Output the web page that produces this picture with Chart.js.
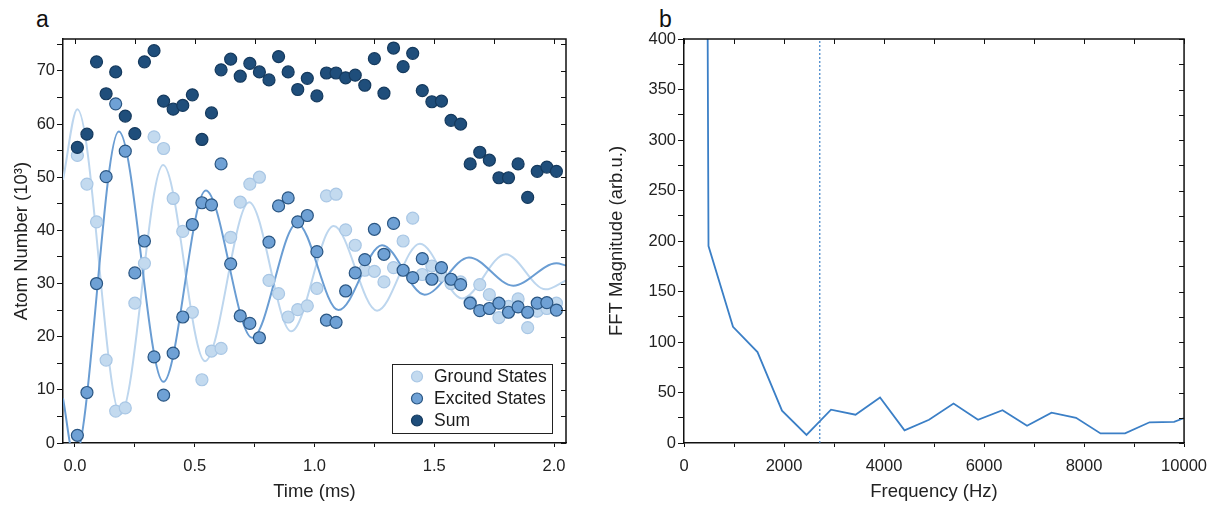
<!DOCTYPE html>
<html>
<head>
<meta charset="utf-8">
<script src="https://cdn.jsdelivr.net/npm/chart.js@4.4.1/dist/chart.umd.min.js"></script>
<style>
body { margin: 0; background: #fff; width: 1217px; height: 507px; overflow: hidden; position: relative; font-family: "Liberation Sans", Arial, sans-serif; }
canvas { position: absolute; top: 0; }
#left { left: 0; }
#right { left: 600px; }
.tag { position: absolute; top: 6px; font-size: 23px; color: #111; }
</style>
</head>
<body>
<div class="tag" style="left:36px">a</div>
<div class="tag" style="left:659px">b</div>
<canvas id="left" width="600" height="507"></canvas>
<canvas id="right" width="617" height="507"></canvas>
<script>
// ---- panel a: atom numbers vs time ----
const seriesNames = ["Ground States", "Excited States", "Sum"];

const times = [0.01, 0.05, 0.09, 0.13, 0.17, 0.21, 0.25, 0.29, 0.33, 0.37,
    0.41, 0.45, 0.49, 0.53, 0.57, 0.61, 0.65, 0.69, 0.73, 0.77,
    0.81, 0.85, 0.89, 0.93, 0.97, 1.01, 1.05, 1.09, 1.13, 1.17,
    1.21, 1.25, 1.29, 1.33, 1.37, 1.41, 1.45, 1.49, 1.53, 1.57,
    1.61, 1.65, 1.69, 1.73, 1.77, 1.81, 1.85, 1.89, 1.93, 1.97, 2.01];

const ground = [54.1, 48.7, 41.6, 15.6, 6.0, 6.6, 26.3, 33.8, 57.6, 55.4,
    46.0, 39.8, 24.6, 11.9, 17.3, 17.8, 38.7, 45.3, 48.7, 50.0,
    30.6, 28.1, 23.7, 25.1, 25.8, 29.1, 46.5, 46.8, 40.1, 37.2,
    32.5, 32.3, 30.3, 33.0, 38.0, 42.3, 31.7, 33.3, 31.5, 30.0,
    30.3, 26.5, 29.8, 27.9, 23.6, 25.7, 27.1, 21.7, 24.8, 25.3, 26.3];

const excited = [1.45, 9.5, 30.0, 50.1, 63.8, 54.9, 32.0, 38.0, 16.2, 9.0,
    16.9, 23.7, 41.1, 45.2, 44.8, 52.5, 33.7, 23.9, 22.5, 19.8,
    37.8, 44.6, 46.1, 41.6, 42.8, 36.0, 23.1, 22.7, 28.6, 32.0,
    34.5, 40.2, 35.5, 41.3, 32.5, 31.1, 34.7, 30.8, 33.0, 30.8,
    29.8, 26.3, 24.9, 25.3, 26.3, 24.6, 25.6, 24.6, 26.3, 26.4, 25.0];

const sum = [55.6, 58.1, 71.7, 65.7, 69.8, 61.5, 58.2, 71.7, 73.8, 64.3,
    62.8, 63.5, 65.5, 57.1, 62.1, 70.2, 72.2, 69.0, 71.4, 69.8,
    68.3, 72.7, 69.8, 66.5, 68.6, 65.3, 69.6, 69.6, 68.7, 69.2,
    67.3, 72.3, 65.8, 74.3, 70.8, 73.3, 66.3, 64.2, 64.3, 60.7,
    60.0, 52.5, 54.7, 53.2, 49.9, 49.9, 52.5, 46.2, 51.1, 51.9, 51.1];

// fit curves: turning points
const groundFitT = [-0.05, 0.01, 0.19, 0.368, 0.543, 0.727, 0.903, 1.08, 1.261, 1.44, 1.616, 1.798, 1.965, 2.05];
const groundFitN = [49.5, 62.8, 5.4, 52.3, 15.4, 45.3, 21.0, 40.8, 24.9, 37.5, 27.2, 35.5, 28.9, 30.6];
const excitedFitT = [-0.05, -0.002, 0.183, 0.369, 0.546, 0.74, 0.927, 1.10, 1.282, 1.46, 1.645, 1.83, 2.01, 2.05];
const excitedFitN = [8.4, -3.0, 58.6, 11.5, 47.5, 19.8, 41.3, 25.0, 37.2, 27.9, 34.9, 29.6, 33.8, 33.4];

const timeTicks = [0, 0.25, 0.5, 0.75, 1, 1.25, 1.5, 1.75, 2];
const atomTicks = [0, 5, 10, 15, 20, 25, 30, 35, 40, 45, 50, 55, 60, 65, 70, 75];

// ---- panel b: FFT ----
const fftFreq = [0, 490, 980, 1470, 1960, 2450, 2940, 3430, 3920, 4410, 4900,
    5390, 5880, 6370, 6860, 7350, 7840, 8330, 8820, 9310, 9800, 10290];
const fftMag = [6300, 195, 115, 90, 32, 8, 33, 28, 45, 12.5, 23,
    39, 23, 32.5, 17, 30, 25, 9.5, 9.5, 20.5, 21, 30];
const peakFreq = 2715;

const freqTicks = [0, 1000, 2000, 3000, 4000, 5000, 6000, 7000, 8000, 9000, 10000];
const magTicks = [0, 25, 50, 75, 100, 125, 150, 175, 200, 225, 250, 275, 300, 325, 350, 375, 400];

const colors = {
    groundFill: "#c3daef", groundLine: "#a9c7e5",
    excitedFill: "#6fa1d5", excitedLine: "#2a5683",
    sumFill: "#1f4e7b", sumLine: "#153a5e",
    groundCurve: "#bdd6ee", excitedCurve: "#6a9dd3",
    fft: "#3b7fc6",
};

Chart.defaults.font.family = "'Liberation Sans', Arial, sans-serif";
Chart.defaults.color = "#222";

// closes the box and puts inward ticks on the top and right sides
const framePlugin = {
    id: "frame",
    afterDraw(chart) {
        const { ctx, chartArea: a } = chart;
        const x = chart.scales.x, y = chart.scales.y;
        ctx.save();
        ctx.strokeStyle = "#111";
        ctx.lineWidth = 1.5;
        ctx.beginPath();
        ctx.moveTo(a.left, a.top);
        ctx.lineTo(a.right, a.top);
        ctx.lineTo(a.right, a.bottom);
        ctx.stroke();
        ctx.lineWidth = 1;
        ctx.beginPath();
        x.ticks.forEach((t) => {
            const px = Math.round(x.getPixelForValue(t.value)) + 0.5;
            ctx.moveTo(px, a.top);
            ctx.lineTo(px, a.top + 5);
        });
        y.ticks.forEach((t) => {
            const py = Math.round(y.getPixelForValue(t.value)) + 0.5;
            ctx.moveTo(a.right, py);
            ctx.lineTo(a.right - 5, py);
        });
        ctx.stroke();
        ctx.restore();
    },
};

// boxed legend in the lower right corner of panel a
const boxLegend = {
    id: "boxLegend",
    afterDraw(chart) {
        const { ctx, chartArea: a } = chart;
        const w = 160, h = 69;
        const left = a.right - 14 - w, top = a.bottom - 10 - h;
        const fills = [colors.groundFill, colors.excitedFill, colors.sumFill];
        const lines = [colors.groundLine, colors.excitedLine, colors.sumLine];
        ctx.save();
        ctx.fillStyle = "#fff";
        ctx.fillRect(left, top, w, h);
        ctx.strokeStyle = "#222";
        ctx.lineWidth = 1;
        ctx.strokeRect(left + 0.5, top + 0.5, w, h);
        ctx.font = "17.5px 'Liberation Sans', Arial, sans-serif";
        ctx.textBaseline = "middle";
        seriesNames.forEach((name, i) => {
            const cy = top + 12.5 + i * 22;
            ctx.beginPath();
            ctx.arc(left + 25, cy, 5.5, 0, Math.PI * 2);
            ctx.fillStyle = fills[i];
            ctx.fill();
            ctx.strokeStyle = lines[i];
            ctx.lineWidth = 1.2;
            ctx.stroke();
            ctx.fillStyle = "#1a1a1a";
            ctx.fillText(name, left + 42, cy + 1);
        });
        ctx.restore();
    },
};

function points(xs, ys) {
    return xs.map((v, i) => ({ x: v, y: ys[i] }));
}

function axis(opts) {
    return {
        type: "linear",
        min: opts.min,
        max: opts.max,
        afterBuildTicks: (s) => { s.ticks = opts.ticks.map((v) => ({ value: v })); },
        afterFit: opts.fit,
        border: { display: true, color: "#111", width: 1.5 },
        grid: { display: true, drawOnChartArea: false, drawTicks: true, tickLength: opts.tickLength, tickColor: "#111", tickWidth: 1 },
        ticks: { autoSkip: false, maxRotation: 0, padding: opts.pad, font: { size: 16.5 }, color: "#222", callback: opts.label },
        title: { display: true, text: opts.title, font: { size: 18.5 }, color: "#222", padding: opts.titlePad },
    };
}

const scatterStyle = (label, ys, fill, line, order) => ({
    label: label,
    data: points(times, ys),
    backgroundColor: fill,
    borderColor: line,
    borderWidth: 1.2,
    pointRadius: 6,
    order: order,
});

new Chart(document.getElementById("left"), {
    type: "scatter",
    data: {
        datasets: [
            scatterStyle(seriesNames[2], sum, colors.sumFill, colors.sumLine, 1),
            scatterStyle(seriesNames[1], excited, colors.excitedFill, colors.excitedLine, 2),
            scatterStyle(seriesNames[0], ground, colors.groundFill, colors.groundLine, 3),
            {
                data: points(excitedFitT, excitedFitN),
                showLine: true, pointRadius: 0, borderColor: colors.excitedCurve, borderWidth: 2,
                cubicInterpolationMode: "monotone", order: 4,
            },
            {
                data: points(groundFitT, groundFitN),
                showLine: true, pointRadius: 0, borderColor: colors.groundCurve, borderWidth: 2,
                cubicInterpolationMode: "monotone", order: 5,
            },
        ],
    },
    options: {
        responsive: false,
        animation: false,
        events: [],
        layout: { padding: { top: 39, right: 34, left: 0, bottom: 0 } },
        plugins: { legend: { display: false }, tooltip: { enabled: false } },
        scales: {
            x: axis({
                min: -0.05, max: 2.05, ticks: timeTicks, tickLength: 4, pad: 10,
                label: (v) => (v % 0.5 === 0 ? v.toFixed(1) : ""),
                title: "Time (ms)", titlePad: { bottom: 4 },
                fit: (s) => { s.height = 64; },
            }),
            y: axis({
                min: 0, max: 76, ticks: atomTicks, tickLength: 6, pad: 2,
                label: (v) => (v % 10 === 0 ? v : ""),
                title: "Atom Number (10³)", titlePad: { top: 11 },
                fit: (s) => { s.width = 63; },
            }),
        },
    },
    plugins: [framePlugin, boxLegend],
});

new Chart(document.getElementById("right"), {
    type: "scatter",
    data: {
        datasets: [
            {
                data: points(fftFreq, fftMag),
                showLine: true, pointRadius: 0, borderColor: colors.fft, borderWidth: 1.8,
            },
            {
                // dominant oscillation frequency
                data: [{ x: peakFreq, y: 0 }, { x: peakFreq, y: 400 }],
                showLine: true, pointRadius: 0, borderColor: colors.fft, borderWidth: 1.2,
                borderDash: [2, 2],
            },
        ],
    },
    options: {
        responsive: false,
        animation: false,
        events: [],
        layout: { padding: { top: 39, right: 32, left: 0, bottom: 0 } },
        plugins: { legend: { display: false }, tooltip: { enabled: false } },
        scales: {
            x: axis({
                min: 0, max: 10000, ticks: freqTicks, tickLength: 4, pad: 10,
                label: (v) => (v % 2000 === 0 ? v : ""),
                title: "Frequency (Hz)", titlePad: { bottom: 4 },
                fit: (s) => { s.height = 64; },
            }),
            y: axis({
                min: 0, max: 400, ticks: magTicks, tickLength: 6, pad: 2,
                label: (v) => (v % 50 === 0 ? v : ""),
                title: "FFT Magnitude (arb.u.)", titlePad: { top: 6 },
                fit: (s) => { s.width = 84; },
            }),
        },
    },
    plugins: [framePlugin],
});
</script>
</body>
</html>
